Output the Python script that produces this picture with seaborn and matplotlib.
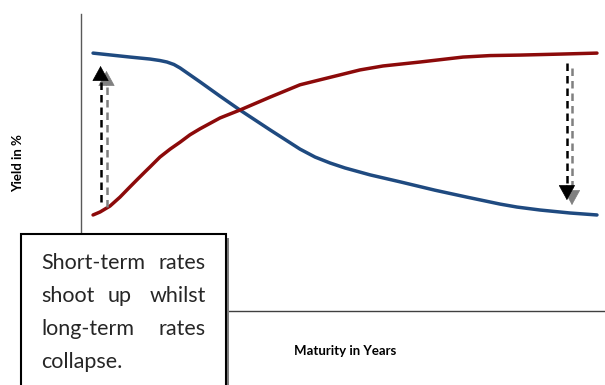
import numpy as np
import pandas as pd
import matplotlib
matplotlib.use("Agg")
import matplotlib.pyplot as plt
from matplotlib.patches import Rectangle
import seaborn as sns

# ---- data (maturity in years, yield in %) ----
blue_x = [0.69, 2.81, 3.95, 4.52, 4.92, 5.32, 5.67, 6.24, 6.81, 7.96, 9.10, 10.82, 12.54, 13.40, 14.26,
          15.11, 16.55, 18.26, 20.27, 22.10, 23.99, 24.96, 26.28, 27.99, 29.54]
blue_y = [5.21, 5.13, 5.09, 5.06, 5.03, 4.98, 4.91, 4.77, 4.63, 4.34, 4.06, 3.66, 3.27, 3.11, 2.99,
          2.89, 2.75, 2.61, 2.44, 2.30, 2.16, 2.10, 2.04, 1.98, 1.94]
red_x = [0.69, 1.09, 1.66, 2.23, 2.81, 3.26, 3.66, 3.95, 4.52, 5.10, 5.67, 6.24, 6.81, 7.96, 9.10,
         10.82, 12.54, 13.68, 14.83, 15.97, 17.29, 19.41, 21.87, 23.42, 25.13, 27.42, 29.54]
red_y = [1.94, 2.00, 2.12, 2.30, 2.51, 2.67, 2.81, 2.91, 3.11, 3.27, 3.41, 3.56, 3.68, 3.90, 4.06,
         4.32, 4.57, 4.67, 4.77, 4.87, 4.95, 5.03, 5.13, 5.16, 5.17, 5.19, 5.21]

# arrows: (x, y_start, y_head_base, y_tip)
arrow_black = [(1.12, 2.20, 4.67, 4.95), (27.82, 5.01, 2.54, 2.24)]
arrow_gray = [(1.46, 2.10, 4.55, 4.85), (28.11, 4.91, 2.44, 2.14)]

x_label = "Maturity in Years"
y_label = "Yield in %"
box_lines = [["Short-term", "rates"], ["shoot", "up", "whilst"], ["long-term", "rates"], ["collapse."]]

BLUE = "#1F4A80"
RED = "#8C0A0A"

sns.set_style("white")
plt.rcParams["font.family"] = ["Lato", "DejaVu Sans"]

W, H = 605, 385
fig = plt.figure(figsize=(W / 100, H / 100), dpi=100)
ax = fig.add_axes([81 / W, (H - 311) / H, (605 - 81) / W, (311 - 14) / H])

df_b = pd.DataFrame({"x": blue_x, "y": blue_y})
df_r = pd.DataFrame({"x": red_x, "y": red_y})
sns.lineplot(data=df_b, x="x", y="y", ax=ax, color=BLUE, lw=2.5, sort=False,
             solid_capstyle="round", solid_joinstyle="round")
sns.lineplot(data=df_r, x="x", y="y", ax=ax, color=RED, lw=2.5, sort=False,
             solid_capstyle="round", solid_joinstyle="round")

ax.set_xlim(0, 30)
ax.set_ylim(0, 6)
ax.set_xticks([])
ax.set_yticks([])
ax.set_xlabel("")
ax.set_ylabel("")
for s in ["top", "right"]:
    ax.spines[s].set_visible(False)
ax.spines["left"].set_color("#595959")
ax.spines["left"].set_linewidth(1.0)
ax.spines["bottom"].set_color("#404040")
ax.spines["bottom"].set_linewidth(1.0)

def draw_arrow(x, y0, yb, y1, color, z):
    ax.plot([x, x], [y0, yb], ls=(0, (3, 2)), lw=1.8, color=color, zorder=z,
            dash_capstyle="butt")
    ax.annotate("", xy=(x, y1), xytext=(x, yb),
                arrowprops=dict(arrowstyle="-|>,head_length=1.0,head_width=0.55",
                                lw=0.5, color=color, shrinkA=0, shrinkB=0,
                                mutation_scale=10),
                zorder=z)

for (x, a, b, c) in arrow_gray:
    draw_arrow(x, a, b, c, "#808080", 3)
for (x, a, b, c) in arrow_black:
    draw_arrow(x, a, b, c, "black", 4)

# axis labels
fig.text(18 / W, 1 - 163 / H, y_label, rotation=90, ha="center", va="center",
         fontsize=9.5, fontweight="bold", color="black")
fig.text(345 / W, 1 - 351 / H, x_label, ha="center", va="center",
         fontsize=9.5, fontweight="bold", color="black")

# text box with shadow
bx0, bx1, by_top = 21, 226, 234
shadow = Rectangle((bx0 / W + 3 / W, -0.2), (bx1 - bx0) / W, (H - by_top) / H + 0.2 - 4 / H,
                   transform=fig.transFigure, facecolor="#7F7F7F", edgecolor="none", zorder=8)
box = Rectangle((bx0 / W, -0.2), (bx1 - bx0) / W, (H - by_top) / H + 0.2,
                transform=fig.transFigure, facecolor="white", edgecolor="black",
                lw=1.5, zorder=9)
fig.add_artist(shadow)
fig.add_artist(box)

FS = 15.5
left, right = 41, 206
baselines = [269, 302, 335, 368]
for words, yb in zip(box_lines, baselines):
    yy = 1 - yb / H
    fig.text(left / W, yy, words[0], ha="left", va="baseline", fontsize=FS, zorder=10)
    if len(words) > 1:
        fig.text(right / W, yy, words[-1], ha="right", va="baseline", fontsize=FS, zorder=10)
    if len(words) == 3:
        fig.text(120 / W, yy, words[1], ha="center", va="baseline", fontsize=FS, zorder=10)

fig.savefig("out.png", dpi=100)
